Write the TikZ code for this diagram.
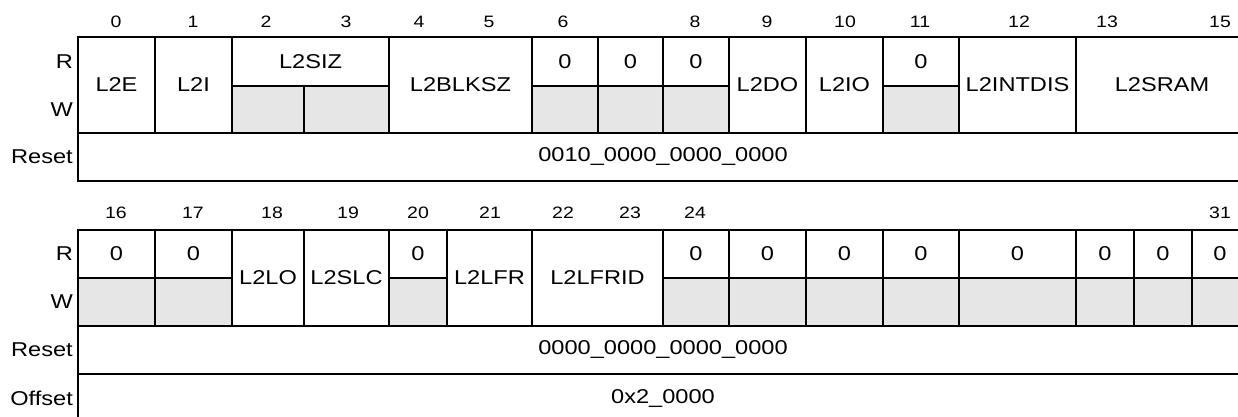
\documentclass[tikz,border=0pt]{standalone}
\usepackage{fontspec}
\setmainfont{Liberation Sans}[FakeStretch=1.18]
\definecolor{rgray}{RGB}{230,230,230}
\newcommand\lblfont{\fontsize{20}{24}\selectfont}
\newcommand\bitfont{\fontsize{16.5}{20}\selectfont}
\tikzset{
  cellbox/.style={draw=black,line width=2.4pt,inner sep=0pt,outer sep=0pt,anchor=north west,font=\lblfont},
  rowlbl/.style={anchor=east,inner sep=0pt,font=\lblfont},
  bitnum/.style={inner sep=0pt,font=\bitfont},
}
% \regcell{name}{x1}{y1}{x2}{y2}{text}
\newcommand\regcell[6]{\node[cellbox,fill=white,minimum width={(#4-#2)*1pt},minimum height={(#5-#3)*1pt}] (#1) at (#2,#3) {#6};}
% \grycell{name}{x1}{y1}{x2}{y2}
\newcommand\grycell[5]{\node[cellbox,fill=rgray,minimum width={(#4-#2)*1pt},minimum height={(#5-#3)*1pt}] (#1) at (#2,#3) {};}
\begin{document}
\begin{tikzpicture}[x=1pt,y=-1pt]
\useasboundingbox (0,0) rectangle (1238,417);
\clip (0,0) rectangle (1238,417);
% ---------- top register: bits 0-15 ----------
\foreach \n/\xx in {0/116,1/193,2/266,3/346,4/419,5/489,6/563,8/695,9/767,10/845,11/920,12/1019,13/1107,15/1220}
  \node[bitnum] (tb\n) at (\xx,22) {\n};
\node[rowlbl] (tR) at (73,62) {R};
\node[rowlbl] (tW) at (73,110) {W};
\node[rowlbl] (tReset) at (73,157) {Reset};
\regcell{l2e}{78}{37}{155}{133}{L2E}
\regcell{l2i}{155}{37}{232}{133}{L2I}
\regcell{l2sizr}{232}{37}{389}{86}{L2SIZ}
\grycell{l2sizwa}{232}{86}{304}{133}
\grycell{l2sizwb}{304}{86}{389}{133}
\regcell{l2blksz}{389}{37}{532}{133}{L2BLKSZ}
\regcell{t6r}{532}{37}{598}{86}{0}
\grycell{t6w}{532}{86}{598}{133}
\regcell{t7r}{598}{37}{663}{86}{0}
\grycell{t7w}{598}{86}{663}{133}
\regcell{t8r}{663}{37}{729}{86}{0}
\grycell{t8w}{663}{86}{729}{133}
\regcell{l2do}{729}{37}{806}{133}{L2DO}
\regcell{l2io}{806}{37}{883}{133}{L2IO}
\regcell{t11r}{883}{37}{959}{86}{0}
\grycell{t11w}{883}{86}{959}{133}
\regcell{l2intdis}{959}{37}{1076}{133}{L2INTDIS}
\regcell{l2sram}{1076}{37}{1248}{133}{L2SRAM}
\regcell{treset}{78}{133}{1248}{181}{0010\_0000\_0000\_0000}
% ---------- bottom register: bits 16-31 ----------
\foreach \n/\xx in {16/116,17/193,18/272,19/348,20/418,21/490,22/563,23/630,24/695,31/1220}
  \node[bitnum] (bb\n) at (\xx,213) {\n};
\node[rowlbl] (bR) at (73,254) {R};
\node[rowlbl] (bW) at (73,302) {W};
\node[rowlbl] (bReset) at (73,350) {Reset};
\node[rowlbl] (bOffset) at (73,398) {Offset};
\regcell{b16r}{78}{230}{155}{278}{0}
\grycell{b16w}{78}{278}{155}{326}
\regcell{b17r}{155}{230}{232}{278}{0}
\grycell{b17w}{155}{278}{232}{326}
\regcell{l2lo}{232}{230}{304}{326}{L2LO}
\regcell{l2slc}{304}{230}{389}{326}{L2SLC}
\regcell{b20r}{389}{230}{447}{278}{0}
\grycell{b20w}{389}{278}{447}{326}
\regcell{l2lfr}{447}{230}{532}{326}{L2LFR}
\regcell{l2lfrid}{532}{230}{663}{326}{L2LFRID}
\regcell{b24r}{663}{230}{729}{278}{0}
\grycell{b24w}{663}{278}{729}{326}
\regcell{b25r}{729}{230}{806}{278}{0}
\grycell{b25w}{729}{278}{806}{326}
\regcell{b26r}{806}{230}{883}{278}{0}
\grycell{b26w}{806}{278}{883}{326}
\regcell{b27r}{883}{230}{959}{278}{0}
\grycell{b27w}{883}{278}{959}{326}
\regcell{b28r}{959}{230}{1076}{278}{0}
\grycell{b28w}{959}{278}{1076}{326}
\regcell{b29r}{1076}{230}{1134}{278}{0}
\grycell{b29w}{1076}{278}{1134}{326}
\regcell{b30r}{1134}{230}{1192}{278}{0}
\grycell{b30w}{1134}{278}{1192}{326}
\regcell{b31r}{1192}{230}{1248}{278}{0}
\grycell{b31w}{1192}{278}{1248}{326}
\regcell{breset}{78}{326}{1248}{374}{0000\_0000\_0000\_0000}
\regcell{boffset}{78}{374}{1248}{422}{0x2\_0000}
\end{tikzpicture}
\end{document}
